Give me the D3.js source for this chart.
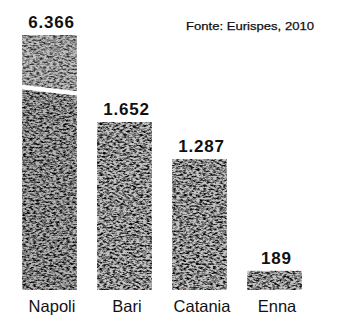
<!DOCTYPE html>
<html>
<head>
<meta charset="utf-8">
<script src="https://cdn.jsdelivr.net/npm/d3@7"></script>
<style>
  html, body { margin: 0; padding: 0; background: #fff; }
  svg { display: block; font-family: "Liberation Sans", Arial, Helvetica, sans-serif; }
</style>
</head>
<body>
<div id="chart"></div>
<script>
// cities and number of ... (source: Eurispes 2010)
const categories = ["Napoli", "Bari", "Catania", "Enna"];
const values = [6366, 1652, 1287, 189];
const sourceNote = "Fonte: Eurispes, 2010";
// Napoli's bar is cut: the axis jumps at this value
const breakValue = 1970;

const width = 352,
  height = 315;
const baseY = 290;
const pxPerUnit = 0.1017; // below the break

// italian number format: 6.366
const itFormat = d3.formatLocale({
  decimal: ",",
  thousands: ".",
  grouping: [3],
  currency: ["€", ""],
}).format(",");

const svg = d3
  .select("#chart")
  .append("svg")
  .attr("width", width)
  .attr("height", height);

// grainy newsprint texture for the bars
const defs = svg.append("defs");
const grain = defs
  .append("filter")
  .attr("id", "grain")
  .attr("x", 0)
  .attr("y", 0)
  .attr("width", 1)
  .attr("height", 1)
  .attr("color-interpolation-filters", "sRGB");
grain
  .append("feTurbulence")
  .attr("type", "fractalNoise")
  .attr("baseFrequency", "0.3 0.55")
  .attr("numOctaves", 3)
  .attr("seed", 7)
  .attr("result", "noise");
grain
  .append("feColorMatrix")
  .attr("in", "noise")
  .attr("type", "matrix")
  .attr(
    "values",
    "2.6 0 0 0 -0.62  2.6 0 0 0 -0.62  2.6 0 0 0 -0.62  0 0 0 0 1"
  )
  .attr("result", "gray");
grain
  .append("feBlend")
  .attr("in", "gray")
  .attr("in2", "SourceGraphic")
  .attr("mode", "multiply")
  .attr("result", "tinted");
grain
  .append("feComposite")
  .attr("in", "tinted")
  .attr("in2", "SourceGraphic")
  .attr("operator", "in");

const x = d3
  .scaleBand()
  .domain(categories)
  .range([12, 312])
  .paddingInner(0.27)
  .paddingOuter(0.135);

// broken axis: linear up to breakValue, compressed above it
const y = d3
  .scaleLinear()
  .domain([0, breakValue, d3.max(values)])
  .range([baseY, baseY - breakValue * pxPerUnit, 35]);

const data = categories.map((c, i) => ({ name: c, value: values[i] }));

svg
  .append("g")
  .selectAll("rect")
  .data(data)
  .join("rect")
  .attr("x", (d) => x(d.name))
  .attr("y", (d) => y(d.value))
  .attr("width", x.bandwidth())
  .attr("height", (d) => y(0) - y(d.value))
  .attr("fill", (d) => (d.value > breakValue ? "#b4b4b4" : "#c4c4c4"))
  .attr("filter", "url(#grain)");

// the cut on bars taller than the break
const cut = data.filter((d) => d.value > breakValue);
// the part above the cut is lighter in the print
svg
  .append("g")
  .selectAll("rect")
  .data(cut)
  .join("rect")
  .attr("x", (d) => x(d.name))
  .attr("y", (d) => y(d.value))
  .attr("width", x.bandwidth())
  .attr("height", (d) => y(breakValue) - y(d.value))
  .attr("fill", "#fff")
  .attr("fill-opacity", 0.18);

svg
  .append("g")
  .selectAll("path")
  .data(cut)
  .join("path")
  .attr("fill", "#fff")
  .attr("d", (d) => {
    const x0 = x(d.name) - 1,
      x1 = x(d.name) + x.bandwidth() + 1,
      yc = y(breakValue);
    return `M${x0},${yc - 5}L${x1},${yc + 1.5}L${x1},${yc + 6}L${x0},${yc - 0.5}Z`;
  });

// value labels
svg
  .append("g")
  .selectAll("text")
  .data(data)
  .join("text")
  .attr("x", (d) => x(d.name) + x.bandwidth() / 2 + 2)
  .attr("y", (d) => y(d.value) - 7)
  .attr("text-anchor", "middle")
  .attr("font-size", 17)
  .attr("font-weight", "bold")
  .attr("letter-spacing", 0.8)
  .attr("fill", "#111")
  .text((d) => itFormat(d.value));

// category labels
svg
  .append("g")
  .selectAll("text")
  .data(categories)
  .join("text")
  .attr("x", (d) => x(d) + x.bandwidth() / 2 + 2.5)
  .attr("y", 312)
  .attr("text-anchor", "middle")
  .attr("font-size", 16.5)
  .attr("fill", "#111")
  .text((d) => d);

svg
  .append("text")
  .attr("x", 186)
  .attr("y", 30)
  .attr("font-size", 11)
  .attr("textLength", 128)
  .attr("lengthAdjust", "spacingAndGlyphs")
  .attr("fill", "#111")
  .attr("stroke", "#111")
  .attr("stroke-width", 0.25)
  .text(sourceNote);
</script>
</body>
</html>
